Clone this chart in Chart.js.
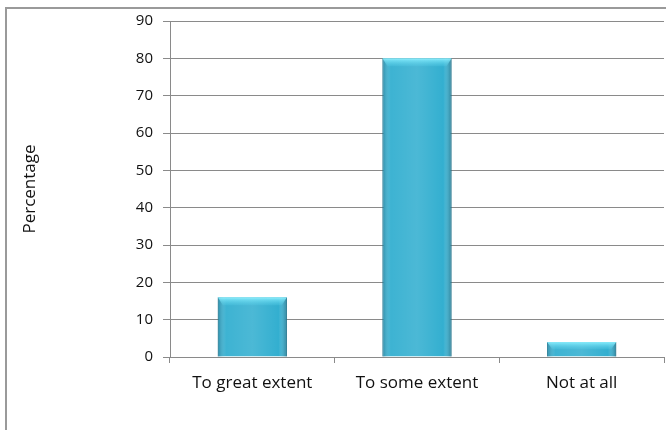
<!DOCTYPE html>
<html>
<head>
<meta charset="utf-8">
<script src="https://cdn.jsdelivr.net/npm/chart.js@4/dist/chart.umd.min.js"></script>
<style>
  html, body { margin: 0; padding: 0; background: #fff; }
  #box { width: 666px; height: 430px; }
</style>
</head>
<body>
<div id="box"><canvas id="myChart" width="666" height="430"></canvas></div>
<script>
// data
const categories = ['To great extent', 'To some extent', 'Not at all']
const percentages = [16, 80, 4]
const yTicks = [0, 10, 20, 30, 40, 50, 60, 70, 80, 90]

// outer frame of the pasted chart
const frame = {
    id: 'frame',
    beforeDraw(chart) {
        const ctx = chart.ctx
        ctx.save()
        ctx.strokeStyle = '#9a9a9a'
        ctx.lineWidth = 2
        ctx.strokeRect(6, 8, 720, 500)
        ctx.restore()
    }
}

// shading so the bars look like the old office bevel
const bevel = {
    id: 'bevel',
    afterDatasetsDraw(chart) {
        const ctx = chart.ctx
        chart.getDatasetMeta(0).data.forEach(bar => {
            const left = bar.x - bar.width / 2
            const w = bar.width
            const top = bar.y
            const h = bar.base - bar.y
            ctx.save()
            const g = ctx.createLinearGradient(left, 0, left + w, 0)
            g.addColorStop(0, 'rgba(20,90,115,0.45)')
            g.addColorStop(0.12, 'rgba(255,255,255,0.05)')
            g.addColorStop(0.5, 'rgba(255,255,255,0.12)')
            g.addColorStop(0.88, 'rgba(255,255,255,0.0)')
            g.addColorStop(1, 'rgba(20,80,100,0.5)')
            ctx.fillStyle = g
            ctx.fillRect(left, top, w, h)
            const cap = Math.min(8, h / 2)
            const t = ctx.createLinearGradient(0, top, 0, top + cap)
            t.addColorStop(0, 'rgba(140,240,255,0.95)')
            t.addColorStop(1, 'rgba(90,210,235,0.2)')
            ctx.fillStyle = t
            ctx.beginPath()
            ctx.moveTo(left, top)
            ctx.lineTo(left + w, top)
            ctx.lineTo(left + w - 5, top + cap)
            ctx.lineTo(left + 5, top + cap)
            ctx.closePath()
            ctx.fill()
            ctx.restore()
        })
    }
}

const bigFont = { family: 'Open Sans', size: 17 }
const tickFont = { family: 'Open Sans', size: 15 }

const config = {
    type: 'bar',
    data: {
        labels: categories,
        datasets: [{
            data: percentages,
            backgroundColor: '#33afd0',
            borderColor: '#2590ad',
            borderWidth: 1,
            barPercentage: 0.42,
            categoryPercentage: 1
        }]
    },
    options: {
        responsive: false,
        animation: false,
        layout: { padding: { top: 21, right: 2, left: 0, bottom: 0 } },
        plugins: {
            legend: { display: false },
            tooltip: { enabled: false }
        },
        scales: {
            x: {
                grid: {
                    offset: true,
                    drawOnChartArea: false,
                    tickLength: 6,
                    color: '#8a8a8a'
                },
                border: { color: '#8a8a8a', width: 1 },
                ticks: {
                    padding: 10,
                    color: '#111',
                    font: bigFont
                },
                afterFit(scale) { scale.height = 73 }
            },
            y: {
                min: 0,
                max: 90,
                afterBuildTicks(scale) { scale.ticks = yTicks.map(v => ({ value: v })) },
                grid: {
                    color: '#8a8a8a',
                    tickLength: 7
                },
                border: { color: '#8a8a8a', width: 1 },
                ticks: {
                    padding: 10,
                    color: '#111',
                    font: tickFont
                },
                title: {
                    display: true,
                    text: 'Percentage',
                    color: '#111',
                    font: bigFont,
                    padding: { top: 20, bottom: 0 }
                },
                afterFit(scale) { scale.width = 170 }
            }
        }
    },
    plugins: [frame, bevel]
}

new Chart(document.getElementById('myChart'), config)
</script>
</body>
</html>
